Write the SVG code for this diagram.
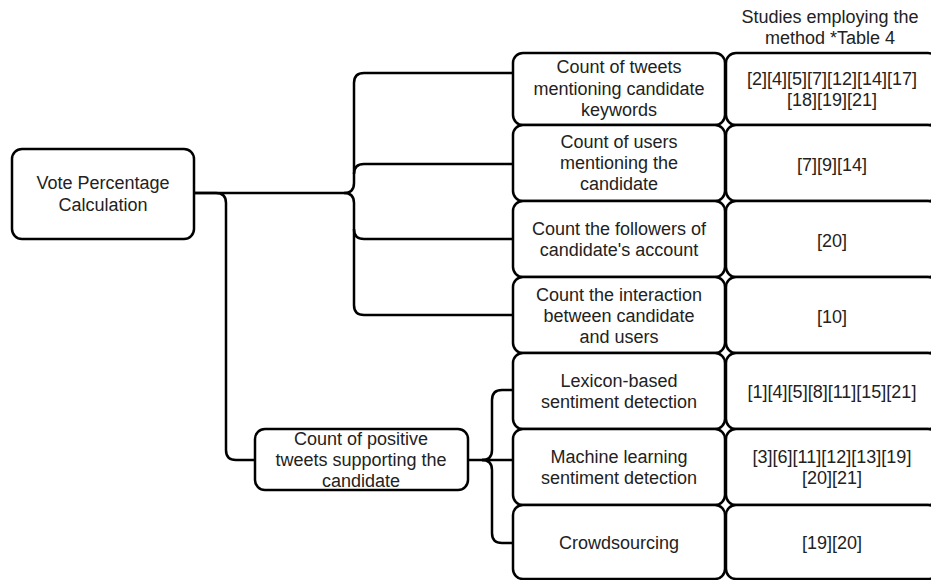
<svg xmlns="http://www.w3.org/2000/svg" width="931" height="580" viewBox="0 0 931 580">
<style>
.box{fill:#fff;stroke:#000;stroke-width:2.5}
.con{fill:none;stroke:#000;stroke-width:2.5}
text{font-family:"Liberation Sans",Arial,sans-serif;font-size:18px;fill:#222;text-anchor:middle}
</style>
<rect width="931" height="580" fill="#fff"/>
<g id="connectors">
<path class="con" d="M194,193 H344 Q354,193 354,183 V83 Q354,73 364,73 H513"/>
<path class="con" d="M344,193 Q354,193 354,203 V305 Q354,315 364,315 H513"/>
<path class="con" d="M354,174 Q354,164 364,164 H513"/>
<path class="con" d="M354,229 Q354,239 364,239 H513"/>
<path class="con" d="M194,193 H216 Q226,193 226,203 V450 Q226,460 236,460 H255"/>
<path class="con" d="M468,460 H482 Q492,460 492,450 V400 Q492,390 502,390 H513"/>
<path class="con" d="M482,460 Q492,460 492,470 V533 Q492,543 502,543 H513"/>
<path class="con" d="M482,460 H513"/>
</g>
<g id="header"><text x="830" y="23">Studies employing the</text><text x="830" y="44">method *Table 4</text></g>
<g id="root"><rect class="box" x="12" y="149" width="182" height="90" rx="10"/><text x="103" y="189">Vote Percentage</text><text x="103" y="211">Calculation</text></g>
<g id="positive"><rect class="box" x="255" y="429" width="213" height="61" rx="10"/><text x="361" y="445">Count of positive</text><text x="361" y="466">tweets supporting the</text><text x="361" y="487">candidate</text></g>
<g id="m1"><rect class="box" x="513" y="53" width="212" height="72" rx="10"/><text x="619" y="73">Count of tweets</text><text x="619" y="95">mentioning candidate</text><text x="619" y="116">keywords</text></g>
<g id="m2"><rect class="box" x="513" y="125" width="212" height="76" rx="10"/><text x="619" y="148">Count of users</text><text x="619" y="169">mentioning the</text><text x="619" y="190">candidate</text></g>
<g id="m3"><rect class="box" x="513" y="201" width="212" height="76" rx="10"/><text x="619" y="235">Count the followers of</text><text x="619" y="256">candidate's account</text></g>
<g id="m4"><rect class="box" x="513" y="277" width="212" height="76" rx="10"/><text x="619" y="301">Count the interaction</text><text x="619" y="322">between candidate</text><text x="619" y="343">and users</text></g>
<g id="m5"><rect class="box" x="513" y="353" width="212" height="76" rx="10"/><text x="619" y="387">Lexicon-based</text><text x="619" y="408">sentiment detection</text></g>
<g id="m6"><rect class="box" x="513" y="429" width="212" height="76" rx="10"/><text x="619" y="463">Machine learning</text><text x="619" y="484">sentiment detection</text></g>
<g id="m7"><rect class="box" x="513" y="505" width="212" height="74" rx="10"/><text x="619" y="549">Crowdsourcing</text></g>
<g id="r1"><rect class="box" x="726" y="53" width="212" height="72" rx="10"/><text x="832" y="85">[2][4][5][7][12][14][17]</text><text x="832" y="106">[18][19][21]</text></g>
<g id="r2"><rect class="box" x="726" y="125" width="212" height="76" rx="10"/><text x="832" y="171">[7][9][14]</text></g>
<g id="r3"><rect class="box" x="726" y="201" width="212" height="76" rx="10"/><text x="832" y="247">[20]</text></g>
<g id="r4"><rect class="box" x="726" y="277" width="212" height="76" rx="10"/><text x="832" y="323">[10]</text></g>
<g id="r5"><rect class="box" x="726" y="353" width="212" height="76" rx="10"/><text x="832" y="398">[1][4][5][8][11][15][21]</text></g>
<g id="r6"><rect class="box" x="726" y="429" width="212" height="76" rx="10"/><text x="832" y="463">[3][6][11][12][13][19]</text><text x="832" y="484">[20][21]</text></g>
<g id="r7"><rect class="box" x="726" y="505" width="212" height="74" rx="10"/><text x="832" y="549">[19][20]</text></g>
</svg>
